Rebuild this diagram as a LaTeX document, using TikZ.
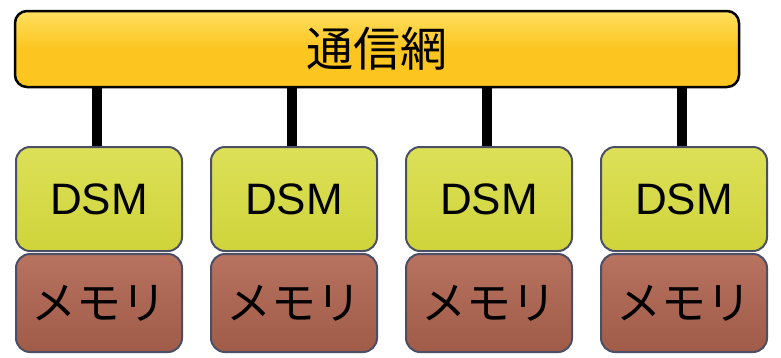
\documentclass[tikz,border=0pt]{standalone}
\usepackage{fontspec}
\setmainfont{Liberation Sans}
\newfontfamily\jp{Noto Sans CJK JP}
\begin{document}
\begin{tikzpicture}[x=1pt,y=-1pt,
  barbox/.style={rounded corners=12pt, draw=black, line width=2.5pt, top color=barlight, bottom color=baryel, middle color=baryel},
  dsmbox/.style={rounded corners=14pt, draw=edgec, line width=2pt, top color=dsmlight, bottom color=dsmc, minimum width=166pt, minimum height=104pt, inner sep=0pt, font=\fontsize{44}{46}\selectfont},
  membox/.style={rounded corners=14pt, draw=edgec, line width=2pt, top color=memlight, bottom color=memc, minimum width=166pt, minimum height=98pt, inner sep=0pt, font=\jp\fontsize{45}{48}\selectfont},
  link/.style={line width=10pt, draw=black}
]
\definecolor{baryel}{HTML}{FCC51F}
\definecolor{barlight}{HTML}{FFE060}
\definecolor{dsmc}{HTML}{CFD43A}
\definecolor{dsmlight}{HTML}{DCE058}
\definecolor{memc}{HTML}{A05C48}
\definecolor{memlight}{HTML}{B87260}
\definecolor{edgec}{HTML}{4B4F66}
\useasboundingbox (0,0) rectangle (781,357);
\fill[white] (0,0) rectangle (781,357);
\node[barbox, minimum width=724pt, minimum height=76pt, font=\jp\fontsize{47}{50}\selectfont] (net) at (377,49) {通信網};
\foreach \i/\cx in {1/99,2/294,3/489,4/684}{
  \node[dsmbox] (d\i) at (\cx,199) {DSM};
  \node[membox] (m\i) at (\cx,303) {メモリ};
}
\foreach \i in {1,...,4}{
  \path (d\i.north) ++(-2,0) coordinate (b\i);
  \draw[link] (b\i) -- (b\i |- net.south);
}
\end{tikzpicture}
\end{document}
